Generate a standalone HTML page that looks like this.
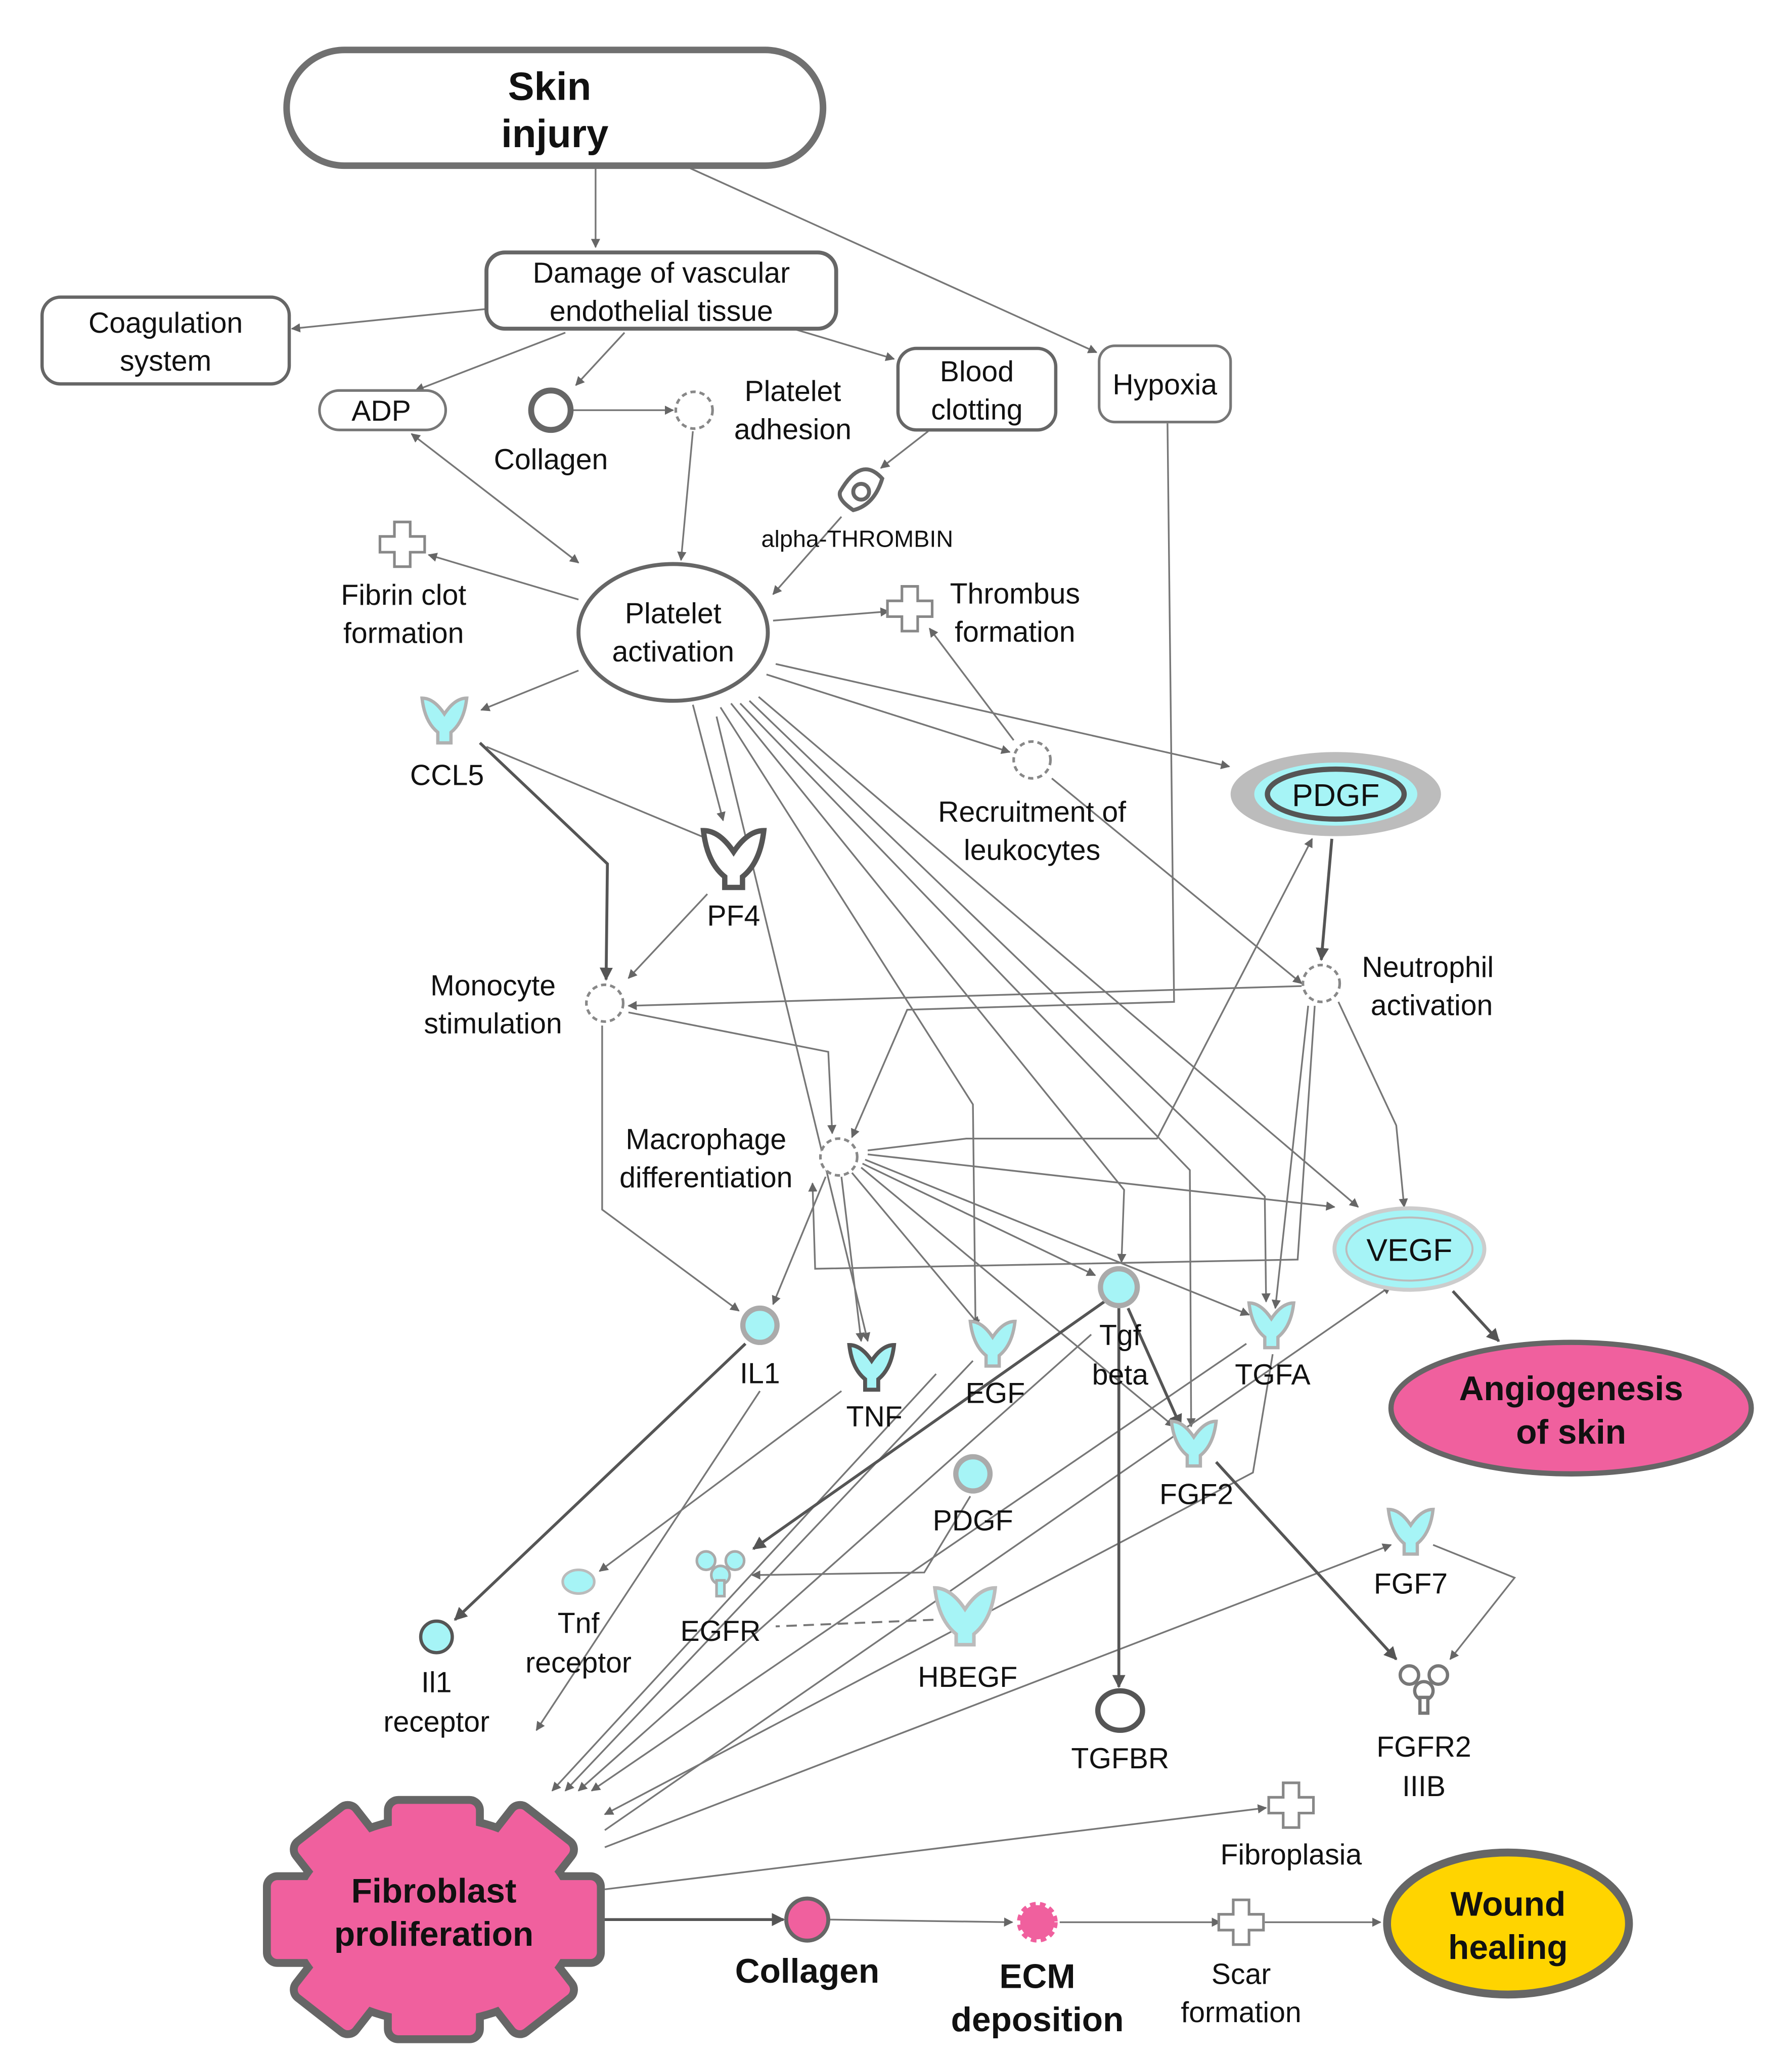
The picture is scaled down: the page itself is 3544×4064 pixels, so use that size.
<!DOCTYPE html>
<html><head><meta charset="utf-8"><style>
html,body{margin:0;padding:0;background:#fff}
svg{display:block}
text{font-family:"Liberation Sans",Arial,sans-serif;fill:#111;text-anchor:middle}
</style></head><body>
<svg width="3544" height="4064" viewBox="0 0 1363 1563" preserveAspectRatio="none" xmlns="http://www.w3.org/2000/svg">
<defs>
<marker id="a" viewBox="0 0 10 10" refX="9" refY="5" markerWidth="7" markerHeight="7" markerUnits="userSpaceOnUse" orient="auto-start-reverse"><path d="M0,0 L10,5 L0,10 Z" fill="#666"/></marker>
<marker id="b" viewBox="0 0 10 10" refX="9" refY="5" markerWidth="10" markerHeight="10" markerUnits="userSpaceOnUse" orient="auto"><path d="M0,0 L10,5 L0,10 Z" fill="#555"/></marker>
<g id="v"><path d="M-17,-15 Q-8,-15 0,-3 Q8,-15 17,-15 Q15,3 5,11 L5,19 L-5,19 L-5,11 Q-15,3 -17,-15Z" fill="#a6f4f6" stroke="#b0b0b0" stroke-width="2.5"/></g>
<g id="dot"><circle r="14" fill="#fff" stroke="#888" stroke-width="2" stroke-dasharray="4 3"/></g>
<g id="plus"><path d="M-6,-17 H6 V-6 H17 V6 H6 V17 H-6 V6 H-17 V-6 H-6Z" fill="#fff" stroke="#888" stroke-width="2"/></g>
</defs>

<g fill="none" stroke="#777" stroke-width="1.3" marker-end="url(#a)">
<path d="M453,128 V188"/>
<path d="M525,128 L834,268"/>
<path d="M370,235 L222,250"/>
<path d="M430,253 L316,297"/>
<path d="M475,253 L438,293"/>
<path d="M603,250 L680,273"/>
<path d="M436,312 L512,312"/>
<path d="M527,328 L518,426"/>
<path d="M706,328 L670,356"/>
<path d="M640,393 L588,452"/>
<path d="M313,330 L440,428" marker-start="url(#a)"/>
<path d="M440,456 L326,422"/>
<path d="M588,472 L676,465"/>
<path d="M771,563 L707,478"/>
<path d="M440,510 L366,540"/>
<path d="M527,536 L550,624"/>
<path d="M590,505 L935,583"/>
<path d="M583,513 L768,572"/>
<path d="M800,592 L990,748"/>
<path d="M370,568 L543,640"/>
<path d="M538,680 L478,744"/>
<path d="M888,322 L893,762 L690,768 L648,865"/>
<path d="M990,750 L478,765"/>
<path d="M548,538 L740,840 L742,1010"/>
<path d="M556,535 L855,905 L853,960"/>
<path d="M563,535 L905,890 L906,1085"/>
<path d="M570,533 L962,910 L963,990"/>
<path d="M577,530 L1033,918"/>
<path d="M545,545 L660,1020"/>
<path d="M458,780 L458,920 L562,997"/>
<path d="M478,770 L630,800 L633,862"/>
<path d="M628,895 L588,992"/>
<path d="M640,895 L655,1020"/>
<path d="M648,892 L745,1008"/>
<path d="M656,885 L833,970"/>
<path d="M658,882 L950,1000"/>
<path d="M655,888 L893,1085"/>
<path d="M660,878 L1015,918"/>
<path d="M660,875 L735,866 L880,866 L998,638"/>
<path d="M1018,762 L1062,856 L1068,918"/>
<path d="M1000,765 L987,958 L620,965 L618,900"/>
<path d="M995,765 L970,995"/>
<path d="M578,1058 L408,1316"/>
<path d="M640,1058 L456,1195"/>
<path d="M738,1138 L703,1196 L572,1198"/>
<path d="M1090,1175 L1152,1200 L1103,1262"/>
<path d="M712,1045 L420,1362"/>
<path d="M740,1035 L430,1362"/>
<path d="M830,1015 L440,1362"/>
<path d="M948,1022 L450,1362"/>
<path d="M968,1030 L953,1120 L460,1380"/>
<path d="M460,1392 L1058,978"/>
<path d="M460,1405 L1058,1175"/>
<path d="M460,1437 L963,1375"/>
<path d="M631,1460 L770,1462"/>
<path d="M806,1462 L928,1462"/>
<path d="M962,1462 L1050,1462"/>
</g>
<path d="M710,1232 L590,1237" stroke="#777" stroke-width="1.5" stroke-dasharray="8 5" fill="none"/>
<g fill="none" stroke="#555" stroke-width="2.2" marker-end="url(#b)">
<path d="M365,565 L462,657 L461,745"/>
<path d="M1013,638 L1005,730"/>
<path d="M1105,982 L1140,1020"/>
<path d="M567,1022 L346,1232"/>
<path d="M851,995 V1283"/>
<path d="M858,995 L898,1085"/>
<path d="M840,990 L573,1178"/>
<path d="M925,1112 L1062,1262"/>
<path d="M458,1460 L596,1460"/>
</g>

<rect x="218" y="38" width="408" height="88" rx="44" fill="#fff" stroke="#707070" stroke-width="5"/>
<text x="418" y="76" font-size="30" font-weight="bold">Skin</text>
<text x="422" y="112" font-size="30" font-weight="bold">injury</text>

<rect x="370" y="192" width="266" height="58" rx="14" fill="#fff" stroke="#666" stroke-width="3"/>
<text x="503" y="215" font-size="22">Damage of vascular</text>
<text x="503" y="244" font-size="22">endothelial tissue</text>

<rect x="32" y="226" width="188" height="66" rx="14" fill="#fff" stroke="#666" stroke-width="2.5"/>
<text x="126" y="253" font-size="22">Coagulation</text>
<text x="126" y="282" font-size="22">system</text>

<rect x="243" y="297" width="96" height="30" rx="15" fill="#fff" stroke="#777" stroke-width="2"/>
<text x="290" y="320" font-size="22">ADP</text>

<circle cx="419" cy="312" r="15" fill="#fff" stroke="#666" stroke-width="4.5"/>
<text x="419" y="357" font-size="22">Collagen</text>

<use href="#dot" x="528" y="312"/>
<text x="603" y="305" font-size="22">Platelet</text>
<text x="603" y="334" font-size="22">adhesion</text>

<rect x="683" y="265" width="120" height="62" rx="14" fill="#fff" stroke="#666" stroke-width="2.5"/>
<text x="743" y="290" font-size="22">Blood</text>
<text x="743" y="319" font-size="22">clotting</text>

<rect x="836" y="263" width="100" height="58" rx="12" fill="#fff" stroke="#777" stroke-width="2"/>
<text x="886" y="300" font-size="22">Hypoxia</text>

<g transform="translate(655,374)" fill="none" stroke="#666" stroke-width="3">
<path d="M-16,0 Q0,-28 16,-10 Q10,10 -6,14 Q-18,6 -16,0Z"/><circle cx="0" cy="0" r="6"/></g>
<text x="652" y="416" font-size="18">alpha-THROMBIN</text>

<use href="#plus" x="306" y="414"/>
<text x="307" y="460" font-size="22">Fibrin clot</text>
<text x="307" y="489" font-size="22">formation</text>

<ellipse cx="512" cy="481" rx="72" ry="52" fill="#fff" stroke="#666" stroke-width="3"/>
<text x="512" y="474" font-size="22">Platelet</text>
<text x="512" y="503" font-size="22">activation</text>

<use href="#plus" x="692" y="463"/>
<text x="772" y="459" font-size="22">Thrombus</text>
<text x="772" y="488" font-size="22">formation</text>

<use href="#v" x="338" y="546"/>
<text x="340" y="597" font-size="22">CCL5</text>

<path transform="translate(558,652) scale(1.35)" d="M-17,-15 Q-8,-15 0,-3 Q8,-15 17,-15 Q15,3 5,11 L5,17 L-5,17 L-5,11 Q-15,3 -17,-15Z" fill="#fff" stroke="#555" stroke-width="3"/>
<text x="558" y="704" font-size="22">PF4</text>

<use href="#dot" x="785" y="578"/>
<text x="785" y="625" font-size="22">Recruitment of</text>
<text x="785" y="654" font-size="22">leukocytes</text>

<ellipse cx="1016" cy="604" rx="80" ry="32" fill="#bcbcbc"/>
<ellipse cx="1016" cy="604" rx="62" ry="24" fill="#a6f4f6"/>
<ellipse cx="1016" cy="604" rx="52" ry="19" fill="#a6f4f6" stroke="#555" stroke-width="4"/>
<text x="1016" y="613" font-size="24">PDGF</text>

<use href="#dot" x="460" y="763"/>
<text x="375" y="757" font-size="22">Monocyte</text>
<text x="375" y="786" font-size="22">stimulation</text>

<use href="#dot" x="1005" y="748"/>
<text x="1086" y="743" font-size="22">Neutrophil</text>
<text x="1089" y="772" font-size="22">activation</text>

<use href="#dot" x="638" y="880"/>
<text x="537" y="874" font-size="22">Macrophage</text>
<text x="537" y="903" font-size="22">differentiation</text>

<ellipse cx="1072" cy="950" rx="57" ry="31" fill="#a6f4f6" stroke="#ccc" stroke-width="3"/>
<ellipse cx="1072" cy="950" rx="48" ry="24" fill="#a6f4f6" stroke="#bbb" stroke-width="1.5"/>
<text x="1072" y="959" font-size="24">VEGF</text>

<ellipse cx="1195" cy="1071" rx="137" ry="50" fill="#f0609e" stroke="#666" stroke-width="4"/>
<text x="1195" y="1065" font-size="26" font-weight="bold">Angiogenesis</text>
<text x="1195" y="1098" font-size="26" font-weight="bold">of skin</text>

<circle cx="578" cy="1008" r="13" fill="#a6f4f6" stroke="#aaa" stroke-width="4"/>
<text x="578" y="1052" font-size="22">IL1</text>

<path transform="translate(663,1038)" d="M-17,-15 Q-8,-15 0,-3 Q8,-15 17,-15 Q15,3 5,11 L5,19 L-5,19 L-5,11 Q-15,3 -17,-15Z" fill="#a6f4f6" stroke="#555" stroke-width="3"/>
<text x="665" y="1085" font-size="22">TNF</text>

<use href="#v" x="755" y="1020"/>
<text x="757" y="1067" font-size="22">EGF</text>

<circle cx="851" cy="979" r="14" fill="#a6f4f6" stroke="#aaa" stroke-width="4"/>
<text x="852" y="1023" font-size="22">Tgf</text>
<text x="852" y="1053" font-size="22">beta</text>

<use href="#v" x="967" y="1006"/>
<text x="968" y="1053" font-size="22">TGFA</text>

<use href="#v" x="908" y="1096"/>
<text x="910" y="1144" font-size="22">FGF2</text>

<circle cx="740" cy="1121" r="13" fill="#a6f4f6" stroke="#aaa" stroke-width="4"/>
<text x="740" y="1164" font-size="22">PDGF</text>

<use href="#v" x="1073" y="1163"/>
<text x="1073" y="1212" font-size="22">FGF7</text>

<ellipse cx="440" cy="1203" rx="12" ry="9" fill="#a6f4f6" stroke="#bbb" stroke-width="2"/>
<text x="440" y="1242" font-size="22">Tnf</text>
<text x="440" y="1272" font-size="22">receptor</text>

<circle cx="332" cy="1245" r="12" fill="#a6f4f6" stroke="#555" stroke-width="2.5"/>
<text x="332" y="1287" font-size="22">Il1</text>
<text x="332" y="1317" font-size="22">receptor</text>

<g transform="translate(548,1196)" fill="#a6f4f6" stroke="#aaa" stroke-width="2">
<circle cx="-11" cy="-9" r="7"/><circle cx="11" cy="-9" r="7"/><circle cx="0" cy="2" r="7"/><rect x="-3" y="6" width="6" height="12"/></g>
<text x="548" y="1248" font-size="22">EGFR</text>

<path transform="translate(734,1228) scale(1.35)" d="M-17,-15 Q-8,-15 0,-3 Q8,-15 17,-15 Q15,3 5,11 L5,17 L-5,17 L-5,11 Q-15,3 -17,-15Z" fill="#a6f4f6" stroke="#bbb" stroke-width="2"/>
<text x="736" y="1283" font-size="22">HBEGF</text>

<ellipse cx="852" cy="1301" rx="17" ry="15" fill="#fff" stroke="#555" stroke-width="4"/>
<text x="852" y="1345" font-size="22">TGFBR</text>

<g transform="translate(1083,1283)" fill="#fff" stroke="#777" stroke-width="2.5">
<circle cx="-11" cy="-9" r="7"/><circle cx="11" cy="-9" r="7"/><circle cx="0" cy="3" r="7"/><rect x="-3" y="8" width="6" height="12"/></g>
<text x="1083" y="1336" font-size="22">FGFR2</text>
<text x="1083" y="1366" font-size="22">IIIB</text>

<use href="#plus" x="982" y="1373"/>
<text x="982" y="1418" font-size="22">Fibroplasia</text>

<g stroke="#666" stroke-width="12" fill="#666">
<ellipse cx="330" cy="1460" rx="105" ry="75"/>
<rect x="298" y="1372" width="64" height="40" rx="5"/>
<rect x="298" y="1508" width="64" height="40" rx="5"/>
<rect x="206" y="1430" width="40" height="60" rx="5"/>
<rect x="414" y="1430" width="40" height="60" rx="5"/>
<rect x="-26" y="-18" width="52" height="36" rx="5" transform="translate(256,1404) rotate(-38)"/>
<rect x="-26" y="-18" width="52" height="36" rx="5" transform="translate(404,1404) rotate(38)"/>
<rect x="-26" y="-18" width="52" height="36" rx="5" transform="translate(256,1516) rotate(38)"/>
<rect x="-26" y="-18" width="52" height="36" rx="5" transform="translate(404,1516) rotate(-38)"/>
</g>
<g fill="#f0609e">
<ellipse cx="330" cy="1460" rx="105" ry="75"/>
<rect x="298" y="1372" width="64" height="40" rx="5"/>
<rect x="298" y="1508" width="64" height="40" rx="5"/>
<rect x="206" y="1430" width="40" height="60" rx="5"/>
<rect x="414" y="1430" width="40" height="60" rx="5"/>
<rect x="-26" y="-18" width="52" height="36" rx="5" transform="translate(256,1404) rotate(-38)"/>
<rect x="-26" y="-18" width="52" height="36" rx="5" transform="translate(404,1404) rotate(38)"/>
<rect x="-26" y="-18" width="52" height="36" rx="5" transform="translate(256,1516) rotate(38)"/>
<rect x="-26" y="-18" width="52" height="36" rx="5" transform="translate(404,1516) rotate(-38)"/>
</g>
<text x="330" y="1447" font-size="26" font-weight="bold">Fibroblast</text>
<text x="330" y="1480" font-size="26" font-weight="bold">proliferation</text>

<circle cx="614" cy="1460" r="16" fill="#f0609e" stroke="#666" stroke-width="3"/>
<text x="614" y="1508" font-size="26" font-weight="bold">Collagen</text>

<g transform="translate(789,1462)"><circle r="13" fill="#f0609e" stroke="#f0609e" stroke-width="5" stroke-dasharray="4 3"/></g>
<text x="789" y="1512" font-size="26" font-weight="bold">ECM</text>
<text x="789" y="1545" font-size="26" font-weight="bold">deposition</text>

<use href="#plus" x="944" y="1462"/>
<text x="944" y="1509" font-size="22">Scar</text>
<text x="944" y="1538" font-size="22">formation</text>

<ellipse cx="1147" cy="1463" rx="92" ry="54" fill="#ffd400" stroke="#666" stroke-width="6"/>
<text x="1147" y="1457" font-size="26" font-weight="bold">Wound</text>
<text x="1147" y="1490" font-size="26" font-weight="bold">healing</text>
</svg>
</body></html>
